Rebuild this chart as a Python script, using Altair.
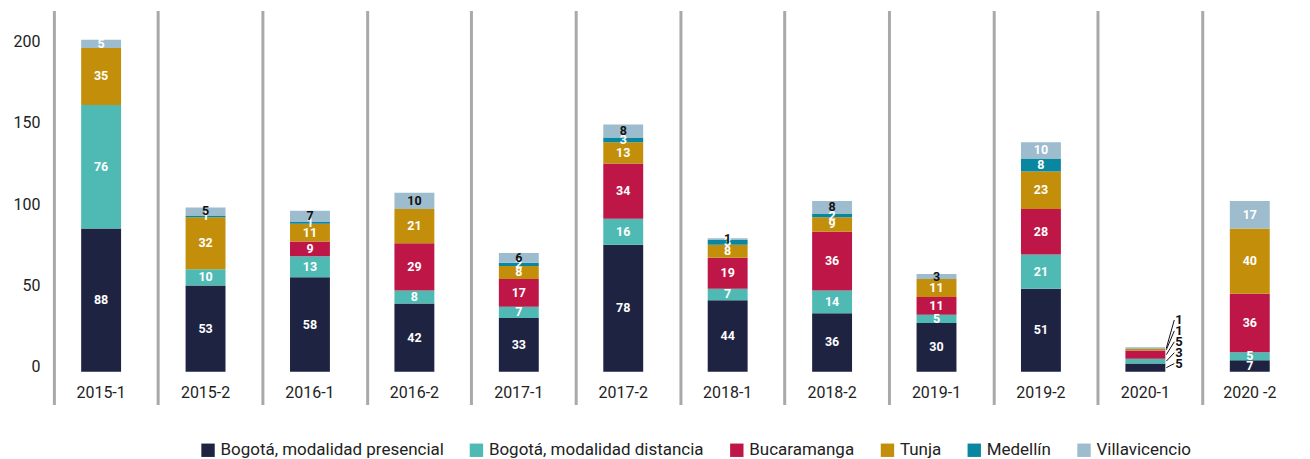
import altair as alt
import pandas as pd

periods = ["2015-1", "2015-2", "2016-1", "2016-2", "2017-1", "2017-2",
           "2018-1", "2018-2", "2019-1", "2019-2", "2020-1", "2020 -2"]
series = ["Bogotá, modalidad presencial", "Bogotá, modalidad distancia",
          "Bucaramanga", "Tunja", "Medellín", "Villavicencio"]
presencial = [88, 53, 58, 42, 33, 78, 44, 36, 30, 51, 5, 7]
distancia = [76, 10, 13, 8, 7, 16, 7, 14, 5, 21, 3, 5]
bucaramanga = [0, 0, 9, 29, 17, 34, 19, 36, 11, 28, 5, 36]
tunja = [35, 32, 11, 21, 8, 13, 8, 9, 11, 23, 1, 40]
medellin = [0, 1, 1, 0, 2, 3, 3, 2, 0, 8, 0, 0]
villavicencio = [5, 5, 7, 10, 6, 8, 1, 8, 3, 10, 1, 17]
colors = ["#1e2342", "#4fbab4", "#be1646", "#c38f0a", "#0a87a0", "#9dbccd"]
dark_top_periods = ["2015-2", "2016-1", "2016-2", "2017-1", "2017-2",
                    "2018-1", "2018-2", "2019-1"]
callout_period = "2020-1"

values = [presencial, distancia, bucaramanga, tunja, medellin, villavicencio]
rows = []
for si, (s, vals) in enumerate(zip(series, values)):
    for p, v in zip(periods, vals):
        rows.append({"period": p, "serie": s, "value": v, "idx": si})
df = pd.DataFrame(rows)

FONT = "Roboto"
yscale = alt.Scale(domain=[-20.2, 222], nice=False, zero=False)

base = alt.Chart(df).transform_stack(
    stack="value", as_=["y0", "y1"], groupby=["period"],
    sort=[alt.SortField("idx", order="ascending")]
).transform_calculate(mid="(datum.y0 + datum.y1) / 2")

bars = base.mark_bar(size=40).encode(
    x=alt.X("period:N", sort=periods, title=None,
            axis=alt.Axis(orient="bottom", labelPadding=-20, labelFontSize=16,
                          labelFont=FONT, labelColor="#222", domain=False,
                          ticks=False, grid=False, labelAngle=0)),
    y=alt.Y("y0:Q", scale=yscale, title=None,
            axis=alt.Axis(values=[0, 50, 100, 150, 200], domain=False, ticks=False,
                          grid=False, labelFontSize=16, labelFont=FONT,
                          labelColor="#222", labelPadding=9, minExtent=41,
                          maxExtent=41, labelOffset=-5)),
    y2="y1:Q",
    color=alt.Color("serie:N", scale=alt.Scale(domain=series, range=colors),
                    legend=alt.Legend(orient="none", legendX=151, legendY=432,
                                      direction="horizontal", title=None,
                                      symbolType="square", symbolSize=180,
                                      symbolStrokeWidth=0, labelFontSize=17,
                                      labelFont=FONT, labelColor="#222",
                                      columnPadding=24, labelLimit=400)),
)

dark_list = "[" + ",".join("'%s'" % p for p in dark_top_periods) + "]"
labels = base.transform_filter(
    "datum.value > 0 && datum.period != '%s'" % callout_period
).mark_text(font=FONT, fontSize=12.5, fontWeight="bold", baseline="middle").encode(
    x=alt.X("period:N", sort=periods, title=None,
            axis=alt.Axis(orient="top", bandPosition=0, grid=True, gridColor="#a9a9a9",
                          gridWidth=3, labels=False, ticks=False, domain=False)),
    y=alt.Y("mid:Q", scale=yscale, axis=None),
    text="value:Q",
    color=alt.condition(
        "datum.serie == 'Villavicencio' && indexof(%s, datum.period) >= 0" % dark_list,
        alt.value("#111111"), alt.value("white")),
)

callout = base.transform_filter(
    "datum.value > 0 && datum.period == '%s'" % callout_period
).transform_window(
    rank="row_number()", sort=[alt.SortField("idx", order="ascending")],
    groupby=["period"]
).transform_calculate(label_y="5 + 6.7 * (datum.rank - 1)")

callout_text = callout.mark_text(font=FONT, fontSize=13, fontWeight="bold",
                                 align="left", baseline="middle", dx=30,
                                 color="#111").encode(
    x=alt.X("period:N", sort=periods, axis=None),
    y=alt.Y("label_y:Q", scale=yscale, axis=None),
    text="value:Q",
)
callout_lines = callout.mark_rule(color="#111", strokeWidth=1, xOffset=21,
                                  x2Offset=29).encode(
    x=alt.X("period:N", sort=periods, axis=None),
    x2="period:N",
    y=alt.Y("mid:Q", scale=yscale, axis=None),
    y2="label_y:Q",
)

chart = alt.layer(bars, labels, callout_lines, callout_text).resolve_axis(
    x="independent", y="independent"
).properties(
    width=1256, height=395,
    padding={"left": 0, "top": 2, "right": 0, "bottom": 0},
).configure_view(stroke=None)

chart.save("out.html", embed_options={"renderer": "svg", "actions": False})
